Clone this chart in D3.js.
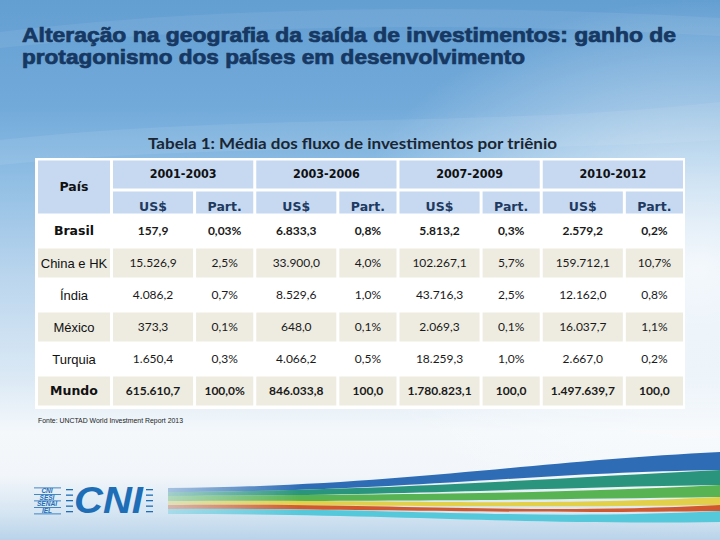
<!DOCTYPE html>
<html><head><meta charset="utf-8">
<script src="https://cdn.jsdelivr.net/npm/d3@7"></script>
<style>html,body{margin:0;padding:0;background:#fff}svg{display:block}</style>
</head><body><div id="chart"></div>
<script>
// ---- data ----
const titleLines = ["Alteração na geografia da saída de investimentos: ganho de", "protagonismo dos países em desenvolvimento"];
const tableTitle = "Tabela 1: Média dos fluxo de investimentos por triênio";
const countries = ["Brasil", "China e HK", "Índia", "México", "Turquia", "Mundo"];
const boldRows = ["Brasil", "Mundo"];
const periods = ["2001-2003", "2003-2006", "2007-2009", "2010-2012"];
const subCols = ["US$", "Part."];
const usd2001 = [157.9, 15526.9, 4086.2, 373.3, 1650.4, 615610.7];
const usd2003 = [6833.3, 33900.0, 8529.6, 648.0, 4066.2, 846033.8];
const usd2007 = [5813.2, 102267.1, 43716.3, 2069.3, 18259.3, 1780823.1];
const usd2010 = [2579.2, 159712.1, 12162.0, 16037.7, 2667.0, 1497639.7];
const part2001 = ["0,03%", "2,5%", "0,7%", "0,1%", "0,3%", "100,0%"];
const part2003 = ["0,8%", "4,0%", "1,0%", "0,1%", "0,5%", "100,0"];
const part2007 = ["0,3%", "5,7%", "2,5%", "0,1%", "1,0%", "100,0"];
const part2010 = ["0,2%", "10,7%", "0,8%", "1,1%", "0,2%", "100,0"];
const sourceNote = "Fonte: UNCTAD World Investment Report 2013";
const logoStack = ["CNI", "SESI", "SENAI", "IEL"];

const usdByPeriod = [usd2001, usd2003, usd2007, usd2010];
const partByPeriod = [part2001, part2003, part2007, part2010];

const W = 720, H = 540;
const svg = d3.select("#chart").append("svg").attr("width", W).attr("height", H);
const defs = svg.append("defs");

// ---- background ----
const bg = defs.append("linearGradient").attr("id", "bg").attr("x1", 0).attr("y1", 0).attr("x2", 0).attr("y2", 1);
[[0, "#649fd2"], [0.2, "#72aada"], [0.3, "#89bae2"], [0.5, "#b8d4ed"], [0.7, "#dbe9f5"], [0.8, "#f4f8fb"], [0.88, "#f2f6fa"], [0.95, "#d5e5f2"], [1, "#b9d3ea"]]
  .forEach(([o, c]) => bg.append("stop").attr("offset", o).attr("stop-color", c));
svg.append("rect").attr("width", W).attr("height", H).attr("fill", "url(#bg)");
const rg = defs.append("radialGradient").attr("id", "glow").attr("cx", 0.97).attr("cy", 0.5).attr("r", 0.5);
rg.append("stop").attr("offset", 0).attr("stop-color", "#ffffff").attr("stop-opacity", 0.85);
rg.append("stop").attr("offset", 1).attr("stop-color", "#ffffff").attr("stop-opacity", 0);
svg.append("rect").attr("width", W).attr("height", H).attr("fill", "url(#glow)");
// subtle swooshes
svg.append("path").attr("d", "M0,32 C200,8 450,2 720,18 L720,36 C450,20 200,26 0,48 Z").attr("fill", "#ffffff").attr("opacity", 0.07);
svg.append("path").attr("d", "M0,140 C250,112 500,128 720,102 L720,140 C500,155 250,140 0,165 Z").attr("fill", "#ffffff").attr("opacity", 0.08);

// ---- titles ----
const titleColor = "#163862";
svg.selectAll("text.mt").data(titleLines).join("text").attr("class", "mt")
  .attr("x", 22).attr("y", (d, i) => 42 + i * 22)
  .attr("textLength", (d, i) => i === 0 ? 654 : 503).attr("lengthAdjust", "spacingAndGlyphs")
  .style("font-family", "'Liberation Sans', Arial, sans-serif").style("font-weight", "bold").style("font-size", "20px")
  .attr("fill", titleColor).attr("stroke", titleColor).attr("stroke-width", 0.7).text(d => d);

svg.append("text").attr("x", 148).attr("y", 149).attr("textLength", 409).attr("lengthAdjust", "spacingAndGlyphs")
  .style("font-family", "Lato, 'Open Sans', sans-serif").style("font-weight", "bold").style("font-size", "15px")
  .attr("fill", "#1a2633").text(tableTitle);

// ---- table geometry via scales ----
const tableLeft = 35, tableRight = 685, tableTop = 158, tableBottom = 409;
const colX = d3.scaleBand().domain(periods).range([111.5, 684.5]).paddingInner(0);
const subX = d3.scaleOrdinal().domain(subCols).range([[0, 0.58], [0.58, 1]]);
const rowY = d3.scaleBand().domain(countries).range([215, 407]);
const headY = d3.scaleOrdinal().domain(["period", "sub"]).range([[159, 190], [190, 215]]);
const countryCol = [36.5, 111.5];
const g = 1.5; // half gap

svg.append("rect").attr("x", tableLeft).attr("y", tableTop).attr("width", tableRight - tableLeft).attr("height", tableBottom - tableTop).attr("fill", "#ffffff");

const headFill = "#c6d9f1", beige = "#eeece1";
const hdr = svg.append("g");
hdr.append("rect").attr("x", countryCol[0] + g).attr("y", headY("period")[0] + g)
  .attr("width", countryCol[1] - countryCol[0] - 2 * g).attr("height", headY("sub")[1] - headY("period")[0] - 2 * g).attr("fill", headFill);
hdr.append("text").attr("x", (countryCol[0] + countryCol[1]) / 2).attr("y", 187).attr("dy", "0.35em").attr("text-anchor", "middle")
  .style("font-family", "'DejaVu Sans', Verdana, sans-serif").style("font-weight", "bold").style("font-size", "12.5px")
  .attr("fill", "#111").text("País");
periods.forEach(p => {
  const [y0, y1] = headY("period");
  hdr.append("rect").attr("x", colX(p) + g).attr("y", y0 + g).attr("width", colX.bandwidth() - 2 * g).attr("height", y1 - y0 - 2 * g).attr("fill", headFill);
  hdr.append("text").attr("x", colX(p) + colX.bandwidth() / 2).attr("y", 174).attr("dy", "0.35em").attr("text-anchor", "middle")
    .style("font-family", "'DejaVu Sans', Verdana, sans-serif").style("font-weight", "bold").style("font-size", "12px")
    .attr("textLength", 67).attr("lengthAdjust", "spacingAndGlyphs")
    .attr("fill", "#111").text(p);
  subCols.forEach(s => {
    const [f0, f1] = subX(s);
    const x0 = colX(p) + f0 * colX.bandwidth(), x1 = colX(p) + f1 * colX.bandwidth();
    const [sy0, sy1] = headY("sub");
    hdr.append("rect").attr("x", x0 + g).attr("y", sy0 + g).attr("width", x1 - x0 - 2 * g).attr("height", sy1 - sy0 - 2 * g).attr("fill", headFill);
    hdr.append("text").attr("x", (x0 + x1) / 2).attr("y", 207).attr("dy", "0.35em").attr("text-anchor", "middle")
      .style("font-family", "'DejaVu Sans', Verdana, sans-serif").style("font-weight", "bold").style("font-size", "12.5px")
      .attr("fill", "#1f3a60").text(s);
  });
});

// ---- body ----
const fmtLoc = d3.formatLocale({decimal: ",", thousands: ".", grouping: [3], currency: ["US$", ""]});
const fmtUsd = fmtLoc.format(",.1f");
const body = svg.append("g");
countries.forEach((c, ri) => {
  const y0 = rowY(c), h = rowY.bandwidth(), cy = y0 + h / 2;
  const shaded = ri % 2 === 1;
  const bold = boldRows.includes(c);
  if (shaded) {
    body.append("rect").attr("x", countryCol[0] + g).attr("y", y0 + g).attr("width", countryCol[1] - countryCol[0] - 2 * g).attr("height", h - 2 * g).attr("fill", beige);
  }
  body.append("text").attr("x", (countryCol[0] + countryCol[1]) / 2).attr("y", cy).attr("dy", "0.35em").attr("text-anchor", "middle")
    .style("font-family", bold ? "'DejaVu Sans', Verdana, sans-serif" : "'Liberation Sans', Arial, sans-serif")
    .style("font-weight", bold ? "bold" : "normal").style("font-size", bold ? "12.5px" : "13px")
    .attr("fill", "#111").text(c);
  periods.forEach((p, pi) => {
    subCols.forEach((s, si) => {
      const [f0, f1] = subX(s);
      const x0 = colX(p) + f0 * colX.bandwidth(), x1 = colX(p) + f1 * colX.bandwidth();
      if (shaded) body.append("rect").attr("x", x0 + g).attr("y", y0 + g).attr("width", x1 - x0 - 2 * g).attr("height", h - 2 * g).attr("fill", beige);
      const label = si === 0 ? fmtUsd(usdByPeriod[pi][ri]) : partByPeriod[pi][ri];
      body.append("text").attr("x", (x0 + x1) / 2).attr("y", cy).attr("dy", "0.35em").attr("text-anchor", "middle")
        .style("font-family", "Lato, 'Open Sans', sans-serif").style("font-weight", bold ? "bold" : "normal")
        .style("font-size", "12px").attr("fill", "#1a1a1a").text(label);
    });
  });
});

svg.append("text").attr("x", 38).attr("y", 423).attr("textLength", 145).attr("lengthAdjust", "spacingAndGlyphs")
  .style("font-family", "'Liberation Sans', Arial, sans-serif").style("font-size", "6.5px").attr("fill", "#222").text(sourceNote);

// ---- footer logo and colour band ----
const fade = defs.append("linearGradient").attr("id", "fadeG").attr("gradientUnits", "userSpaceOnUse")
  .attr("x1", 168).attr("x2", 300).attr("y1", 0).attr("y2", 0);
fade.append("stop").attr("offset", 0).attr("stop-color", "#fff").attr("stop-opacity", 0.35);
fade.append("stop").attr("offset", 1).attr("stop-color", "#fff").attr("stop-opacity", 1);
defs.append("mask").attr("id", "fadeM").append("rect").attr("x", 0).attr("y", 0).attr("width", W).attr("height", H).attr("fill", "url(#fadeG)");
const bands = [
  {top: [488, 452], bot: [492, 470], c: "#2e6db6"},
  {top: [492, 470], bot: [496, 485], c: "#2a957c"},
  {top: [496, 485], bot: [501, 497], c: "#58b453"},
  {top: [501, 497], bot: [505, 505], c: "#e3d04a"},
  {top: [505, 505], bot: [509, 511], c: "#d1582e"},
  {top: [509, 511], bot: [514, 522], c: "#55c8da"}
];
const x0b = 168, x1b = 720;
const bandG = svg.append("g").attr("mask", "url(#fadeM)");
bands.forEach(b => {
  bandG.append("path").attr("d",
    `M${x0b},${b.top[0]} C${x0b + 230},${b.top[0] - 2} ${x1b - 200},${b.top[1] + 10} ${x1b},${b.top[1]} L${x1b},${b.bot[1]} C${x1b - 200},${b.bot[1] + 3} ${x0b + 230},${b.bot[0]} ${x0b},${b.bot[0]} Z`)
    .attr("fill", b.c);
});

const logo = svg.append("g").attr("fill", "#1d6db7");
logoStack.forEach((t, i) => {
  logo.append("text").attr("x", 47).attr("y", 493 + i * 6.5).attr("text-anchor", "middle")
    .attr("textLength", i === 2 ? 20 : null).attr("lengthAdjust", "spacingAndGlyphs")
    .style("font-family", "'Liberation Sans', Arial, sans-serif").style("font-weight", "bold").style("font-style", "italic").style("font-size", "6.5px").text(t);
  logo.append("rect").attr("x", 34).attr("y", 487.5 + i * 6.5).attr("width", 27).attr("height", 0.8);
});
logo.append("rect").attr("x", 34).attr("y", 513.5).attr("width", 27).attr("height", 0.8);
[0, 1, 2, 3, 4].forEach(i => {
  logo.append("rect").attr("x", 66).attr("y", 489 + i * 5.5).attr("width", 7).attr("height", 1.3);
  logo.append("rect").attr("x", 146).attr("y", 489 + i * 5.5).attr("width", 7).attr("height", 1.3);
});
logo.append("text").attr("x", 74).attr("y", 513).attr("textLength", 69).attr("lengthAdjust", "spacingAndGlyphs")
  .style("font-family", "'Liberation Sans', Arial, sans-serif").style("font-weight", "bold").style("font-style", "italic").style("font-size", "36px").text("CNI");
</script></body></html>
